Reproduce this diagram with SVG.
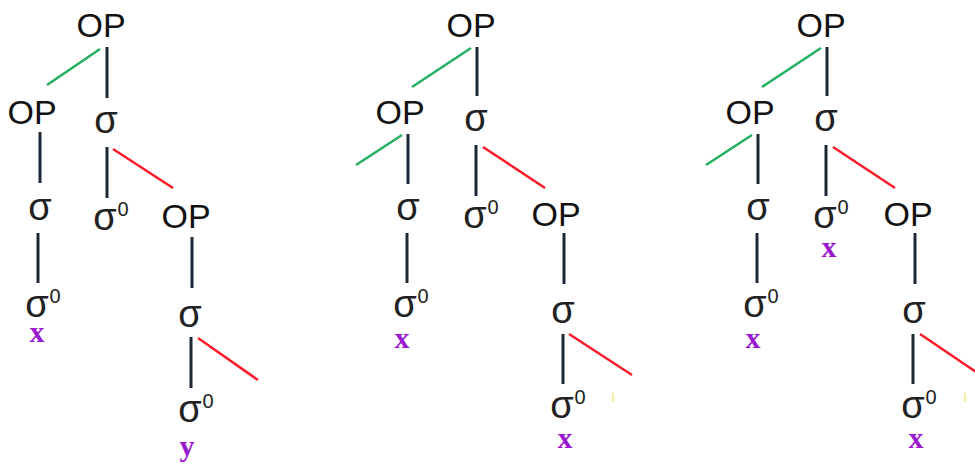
<svg xmlns="http://www.w3.org/2000/svg" width="975" height="465" viewBox="0 0 975 465">
<style>
.op{font-family:"Liberation Sans",Arial,sans-serif;font-size:34px;fill:#111;text-anchor:middle}
.sg{font-family:"Liberation Sans",Arial,sans-serif;font-size:38px;fill:#222;text-anchor:middle}
.sup{font-family:"Liberation Sans",Arial,sans-serif;font-size:20px;fill:#222;text-anchor:middle}
.var{font-family:"Liberation Serif","Times New Roman",serif;font-size:30px;font-weight:bold;fill:#9b19cf;text-anchor:middle}
.e{stroke:#1c2836;stroke-width:3;fill:none}
.g{stroke:#22b060;stroke-width:2.5;fill:none}
.r{stroke:#ff1a2a;stroke-width:2.5;fill:none}
.yl{stroke:#f5ee9a;stroke-width:2;fill:none}
</style>
<g id="connectors">
  <line class="g" x1="100" y1="49" x2="47" y2="85"/>
  <line class="e" x1="107" y1="47" x2="107" y2="98"/>
  <line class="e" x1="40" y1="132" x2="40" y2="183"/>
  <line class="e" x1="38" y1="233" x2="38" y2="283"/>
  <line class="e" x1="107" y1="147" x2="107" y2="198"/>
  <line class="r" x1="113" y1="149" x2="173" y2="188"/>
  <line class="e" x1="192" y1="237" x2="192" y2="288"/>
  <line class="e" x1="191" y1="337" x2="191" y2="388"/>
  <line class="r" x1="198" y1="338" x2="258" y2="380"/>
  <line class="g" x1="471" y1="48" x2="412" y2="87"/>
  <line class="e" x1="477" y1="47" x2="477" y2="96"/>
  <line class="g" x1="402" y1="135" x2="356" y2="165"/>
  <line class="e" x1="408" y1="134" x2="408" y2="184"/>
  <line class="e" x1="407" y1="233" x2="407" y2="283"/>
  <line class="e" x1="476" y1="145" x2="476" y2="196"/>
  <line class="r" x1="483" y1="147" x2="545" y2="188"/>
  <line class="e" x1="564" y1="233" x2="564" y2="284"/>
  <line class="e" x1="563" y1="334" x2="563" y2="384"/>
  <line class="r" x1="569" y1="334" x2="632" y2="375"/>
  <line class="yl" x1="613" y1="393" x2="613" y2="402"/>
  <line class="g" x1="821" y1="48" x2="762" y2="87"/>
  <line class="e" x1="827" y1="47" x2="827" y2="96"/>
  <line class="g" x1="752" y1="135" x2="706" y2="165"/>
  <line class="e" x1="758" y1="134" x2="758" y2="184"/>
  <line class="e" x1="757" y1="233" x2="757" y2="283"/>
  <line class="e" x1="826" y1="145" x2="826" y2="196"/>
  <line class="r" x1="833" y1="147" x2="895" y2="188"/>
  <line class="e" x1="915" y1="233" x2="915" y2="284"/>
  <line class="e" x1="913" y1="334" x2="913" y2="384"/>
  <line class="r" x1="920" y1="334" x2="985" y2="378"/>
  <line class="yl" x1="965" y1="393" x2="965" y2="402"/>
</g>
<g id="t1-root"><text class="op" x="101" y="37">OP</text></g>
<g id="t1-op-left"><text class="op" x="32" y="124">OP</text></g>
<g id="t1-sigma-a"><text class="sg" x="106" y="133">σ</text></g>
<g id="t1-sigma-b"><text class="sg" x="40" y="220">σ</text></g>
<g id="t1-sigma0-left"><text class="sg" x="37" y="317">σ</text><text class="sup" x="55" y="303">0</text></g>
<g id="t1-x-left"><text class="var" x="37" y="342">x</text></g>
<g id="t1-sigma0-mid"><text class="sg" x="105" y="230">σ</text><text class="sup" x="123" y="216">0</text></g>
<g id="t1-op-right"><text class="op" x="186" y="228">OP</text></g>
<g id="t1-sigma-c"><text class="sg" x="190" y="327">σ</text></g>
<g id="t1-sigma0-bottom"><text class="sg" x="190" y="422">σ</text><text class="sup" x="208" y="408">0</text></g>
<g id="t1-y"><text class="var" x="187" y="456">y</text></g>
<g id="t2-root"><text class="op" x="471" y="37">OP</text></g>
<g id="t2-op-left"><text class="op" x="400" y="124">OP</text></g>
<g id="t2-sigma-a"><text class="sg" x="476" y="131">σ</text></g>
<g id="t2-sigma-b"><text class="sg" x="408" y="220">σ</text></g>
<g id="t2-sigma0-left"><text class="sg" x="405" y="317">σ</text><text class="sup" x="423" y="303">0</text></g>
<g id="t2-x-left"><text class="var" x="402" y="348">x</text></g>
<g id="t2-sigma0-mid"><text class="sg" x="475" y="228">σ</text><text class="sup" x="493" y="214">0</text></g>
<g id="t2-op-right"><text class="op" x="556" y="226">OP</text></g>
<g id="t2-sigma-c"><text class="sg" x="563" y="323">σ</text></g>
<g id="t2-sigma0-bottom"><text class="sg" x="562" y="418">σ</text><text class="sup" x="580" y="404">0</text></g>
<g id="t2-x-bottom"><text class="var" x="565" y="448">x</text></g>
<g id="t3-root"><text class="op" x="821" y="37">OP</text></g>
<g id="t3-op-left"><text class="op" x="750" y="124">OP</text></g>
<g id="t3-sigma-a"><text class="sg" x="826" y="131">σ</text></g>
<g id="t3-sigma-b"><text class="sg" x="758" y="220">σ</text></g>
<g id="t3-sigma0-left"><text class="sg" x="755" y="317">σ</text><text class="sup" x="773" y="303">0</text></g>
<g id="t3-x-left"><text class="var" x="753" y="348">x</text></g>
<g id="t3-sigma0-mid"><text class="sg" x="825" y="228">σ</text><text class="sup" x="843" y="214">0</text></g>
<g id="t3-x-mid"><text class="var" x="829" y="257">x</text></g>
<g id="t3-op-right"><text class="op" x="908" y="226">OP</text></g>
<g id="t3-sigma-c"><text class="sg" x="914" y="323">σ</text></g>
<g id="t3-sigma0-bottom"><text class="sg" x="913" y="418">σ</text><text class="sup" x="931" y="404">0</text></g>
<g id="t3-x-bottom"><text class="var" x="916" y="448">x</text></g>
</svg>
